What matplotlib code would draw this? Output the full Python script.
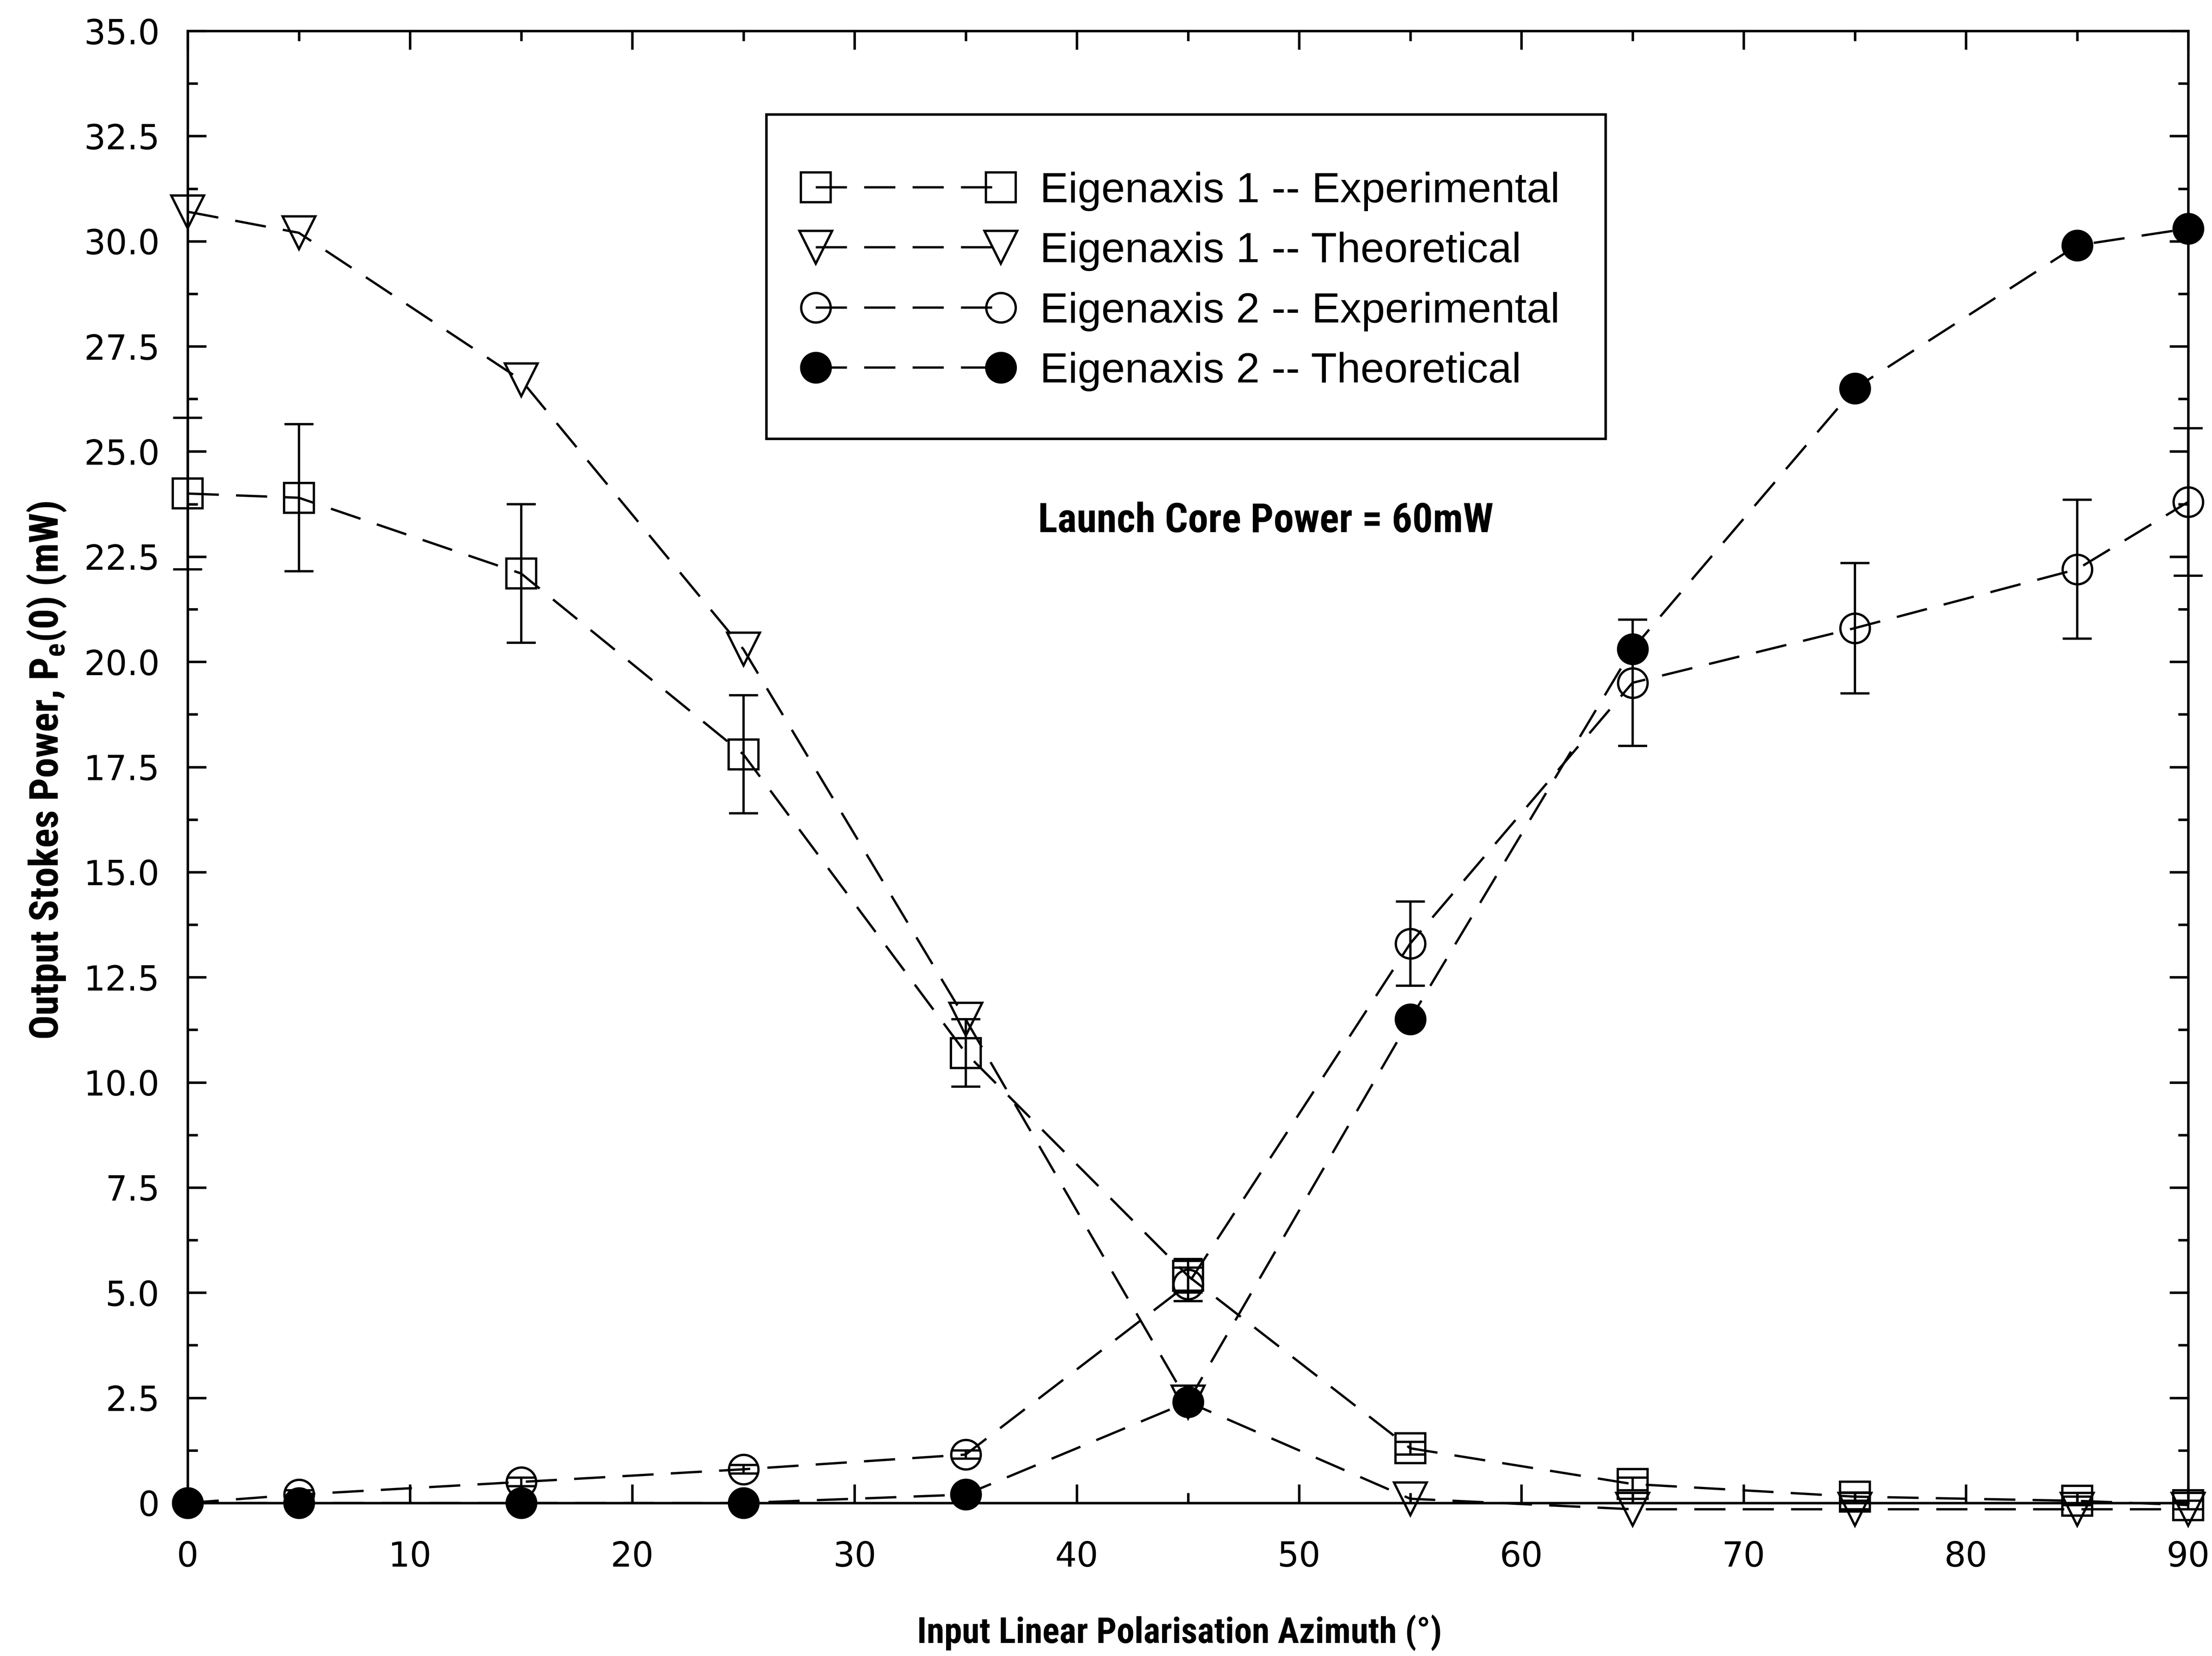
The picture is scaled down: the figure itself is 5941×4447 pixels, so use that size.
import os
import matplotlib
matplotlib.use('Agg')
import matplotlib.pyplot as plt
from matplotlib import font_manager
from matplotlib.font_manager import FontProperties
from matplotlib.patches import Rectangle
from matplotlib.ticker import MultipleLocator, FuncFormatter

# ---------------- data ----------------
azimuth = [0, 5, 15, 25, 35, 45, 55, 65, 75, 85, 90]
e1_exp = [24.0, 23.9, 22.1, 17.8, 10.7, 5.4, 1.3, 0.45, 0.15, 0.05, -0.05]
e1_exp_err = [1.8, 1.75, 1.65, 1.4, 0.8, 0.4, 0.15, 0.15, 0.1, 0.1, 0.1]
e1_theory = [30.7, 30.2, 26.7, 20.3, 11.5, 2.4, 0.1, -0.15, -0.15, -0.15, -0.15]
e2_exp = [0.0, 0.2, 0.5, 0.8, 1.15, 5.2, 13.3, 19.5, 20.8, 22.2, 23.8]
e2_exp_err = [0.05, 0.1, 0.1, 0.1, 0.1, 0.4, 1.0, 1.5, 1.55, 1.65, 1.75]
e2_theory = [0.0, 0.0, 0.0, 0.0, 0.2, 2.4, 11.5, 20.3, 26.5, 29.9, 30.3]

labels = ["Eigenaxis 1 -- Experimental", "Eigenaxis 1 -- Theoretical",
          "Eigenaxis 2 -- Experimental", "Eigenaxis 2 -- Theoretical"]
x_label = "Input Linear Polarisation Azimuth (\u00b0)"
y_label = r"Output Stokes Power, P$_\mathregular{e}$(0) (mW)"
note = "Launch Core Power = 60mW"


def has_font(name):
    try:
        font_manager.findfont(FontProperties(family=name), fallback_to_default=False)
        return True
    except Exception:
        return False


def find_condensed_bold():
    prefs = ['liberation sans narrow', 'liberationsansnarrow', 'arial narrow', 'arialn',
             'roboto condensed', 'robotocondensed', 'notosans-condensed', 'noto sans',
             'opensans-condensed', 'open sans', 'dejavusanscondensed', 'dejavu sans']
    cands = []
    for f in font_manager.fontManager.ttflist:
        fn = os.path.basename(f.fname).lower()
        nm = f.name.lower()
        cond = ('narrow' in nm or 'condensed' in nm or 'narrow' in fn or 'condensed' in fn
                or str(f.stretch) == 'condensed')
        if not cond:
            continue
        if any(k in fn for k in ('extra', 'ultra', 'semicondensed', 'semi')):
            continue
        if f.style != 'normal' or 'italic' in fn or 'oblique' in fn:
            continue
        w = f.weight if isinstance(f.weight, int) else font_manager.weight_dict.get(f.weight, 400)
        if not (600 <= w <= 750):
            continue
        rank = next((i for i, k in enumerate(prefs) if k in nm or k in fn), len(prefs))
        cands.append((rank, f.fname))
    cands.sort()
    return cands[0][1] if cands else None


base = 'Liberation Sans' if has_font('Liberation Sans') else 'DejaVu Sans'
plt.rcParams['font.family'] = [base, 'DejaVu Sans']
cond_file = find_condensed_bold()


def label_font(size):
    if cond_file:
        return FontProperties(fname=cond_file, size=size)
    return FontProperties(family=base, weight='bold', size=size)


DPI = 600
fig = plt.figure(figsize=(5941 / DPI, 4447 / DPI), dpi=DPI)
ax = fig.add_axes([504 / 5941, 1 - 4036 / 4447, (5877 - 504) / 5941, (4036 - 83) / 4447])

lw = 0.75
dash = (0, (13.4, 7.4))
ms = 9.5
common = dict(color='black', lw=lw, linestyle=dash, clip_on=False, zorder=3,
              markeredgewidth=lw, markeredgecolor='black')

ax.errorbar(azimuth, e1_exp, yerr=e1_exp_err, fmt='none', ecolor='black',
            elinewidth=lw, capsize=4.7, capthick=lw, clip_on=False, zorder=2)
ax.errorbar(azimuth, e2_exp, yerr=e2_exp_err, fmt='none', ecolor='black',
            elinewidth=lw, capsize=4.7, capthick=lw, clip_on=False, zorder=2)

h1, = ax.plot(azimuth, e1_exp, marker='s', ms=ms, mfc='none', label=labels[0], **common)
h2, = ax.plot(azimuth, e1_theory, marker='v', ms=10.5, mfc='none', label=labels[1], **common)
h3, = ax.plot(azimuth, e2_exp, marker='o', ms=ms, mfc='none', label=labels[2], **common)
h4, = ax.plot(azimuth, e2_theory, marker='o', ms=ms, mfc='black', label=labels[3], **common)

ax.set_xlim(0, 90)
ax.set_ylim(0, 35)
ax.xaxis.set_major_locator(MultipleLocator(10))
ax.xaxis.set_minor_locator(MultipleLocator(5))
ax.yaxis.set_major_locator(MultipleLocator(2.5))
ax.yaxis.set_minor_locator(MultipleLocator(1.25))
ax.yaxis.set_major_formatter(FuncFormatter(lambda v, p: '0' if abs(v) < 1e-9 else f'{v:.1f}'))
ax.xaxis.set_major_formatter(FuncFormatter(lambda v, p: f'{v:.0f}'))

ax.tick_params(which='both', direction='in', top=True, right=True, width=0.8, color='black')
ax.tick_params(which='major', length=6)
ax.tick_params(which='minor', length=3.2)
ax.tick_params(axis='x', which='major', pad=12)
ax.tick_params(axis='y', which='major', pad=9)
for lab in ax.get_xticklabels() + ax.get_yticklabels():
    lab.set_fontfamily(['DejaVu Sans'])
    lab.set_fontsize(11)
for s in ax.spines.values():
    s.set_linewidth(0.8)
    s.set_color('black')

ax.set_xlabel(x_label, fontproperties=label_font(12))
ax.set_ylabel(y_label, fontproperties=label_font(12))
ax.xaxis.set_label_coords(0.4958, -0.088)
ax.xaxis.label.set_va('center')
ax.yaxis.set_label_coords(-0.0705, 0.4976)
ax.yaxis.label.set_va('center')

note_txt = ax.text(0.539, 0.667, note, transform=ax.transAxes, ha='center', va='center',
                   fontproperties=label_font(12))

# size the condensed texts to the reference lengths (pixels)
renderer = fig.canvas.get_renderer()
for t, target, vertical in ((ax.xaxis.label, 1410, False), (ax.yaxis.label, 1447, True),
                            (note_txt, 1224, False)):
    bb = t.get_window_extent(renderer)
    cur = bb.height if vertical else bb.width
    t.set_fontsize(t.get_fontsize() * target / cur)

# legend frame and content
ax.add_patch(Rectangle((0.2892, 0.7230), 0.4195, 0.2203, transform=ax.transAxes,
                       facecolor='white', edgecolor='black', lw=0.8, zorder=4, clip_on=False))
leg = ax.legend(handles=[h1, h2, h3, h4], loc='upper left', bbox_to_anchor=(0.3076, 0.9044),
                numpoints=2, handlelength=4.95, handletextpad=0.62, borderpad=0,
                labelspacing=0.485, frameon=False, borderaxespad=0, fontsize=13.7)
leg.set_zorder(5)

fig.savefig('out.png', dpi=DPI)
